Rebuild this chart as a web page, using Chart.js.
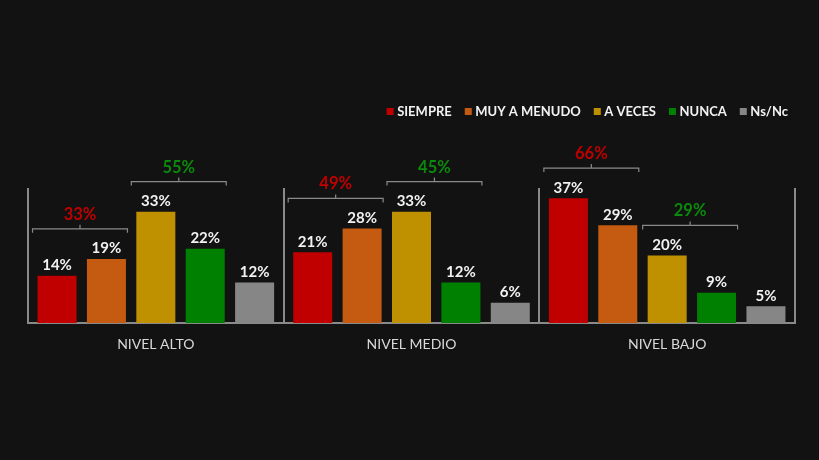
<!DOCTYPE html>
<html>
<head>
<meta charset="utf-8">
<script src="https://cdn.jsdelivr.net/npm/chart.js@4/dist/chart.umd.min.js"></script>
<style>
html,body{margin:0;padding:0;background:#121212;}
#wrap{width:819px;height:460px;}
</style>
</head>
<body>
<div id="wrap"><canvas id="c" width="819" height="460"></canvas></div>
<script>
const categories = ['NIVEL ALTO', 'NIVEL MEDIO', 'NIVEL BAJO'];
const seriesNames = ['SIEMPRE', 'MUY A MENUDO', 'A VECES', 'NUNCA', 'Ns/Nc'];
const siempre = [14, 21, 37];
const muyAMenudo = [19, 28, 29];
const aVeces = [33, 33, 20];
const nunca = [22, 12, 9];
const nsNc = [12, 6, 5];
const siempreMuyTotals = [33, 49, 66];
const vecesNuncaTotals = [55, 45, 29];

const colors = ['#c00000', '#c55a11', '#bf9000', '#008000', '#868686'];
const FONT = 'Lato, "Open Sans", sans-serif';

const bgPlugin = {
  id: 'bg',
  beforeDraw(chart) {
    const c = chart.ctx;
    c.save();
    c.fillStyle = '#121212';
    c.fillRect(0, 0, chart.width, chart.height);
    c.restore();
  }
};

const labelsPlugin = {
  id: 'labels',
  afterDatasetsDraw(chart) {
    const c = chart.ctx;
    const y = chart.scales.y;
    c.save();
    c.font = 'bold 15px ' + FONT;
    c.fillStyle = '#f2f2f2';
    c.textAlign = 'center';
    c.textBaseline = 'alphabetic';
    chart.data.datasets.forEach((ds, i) => {
      chart.getDatasetMeta(i).data.forEach((bar, j) => {
        c.fillText(ds.data[j] + '%', bar.x, bar.y - 5.5);
      });
    });
    const drawBracket = (b0, b1, v0, v1, total, color) => {
      const level = y.getPixelForValue(Math.max(v0, v1) + 8.9);
      const left = b0.x - b0.width / 2 - 5;
      const right = b1.x + b1.width / 2 + 1.5;
      const mid = (left + right) / 2;
      c.strokeStyle = '#8a8a8a';
      c.lineWidth = 1.2;
      c.beginPath();
      c.moveTo(left, level + 4);
      c.lineTo(left, level);
      c.lineTo(right, level);
      c.lineTo(right, level + 4);
      c.moveTo(mid, level);
      c.lineTo(mid, level - 4);
      c.stroke();
      c.font = 'bold 16.5px ' + FONT;
      c.fillStyle = color;
      c.fillText(total + '%', mid, level - 9);
    };
    const m = [0, 1, 2, 3].map(i => chart.getDatasetMeta(i).data);
    const d = chart.data.datasets;
    categories.forEach((cat, j) => {
      drawBracket(m[0][j], m[1][j], d[0].data[j], d[1].data[j], siempreMuyTotals[j], '#c00000');
      drawBracket(m[2][j], m[3][j], d[2].data[j], d[3].data[j], vecesNuncaTotals[j], '#0a8a0a');
    });
    c.restore();
  }
};

const legendPlugin = {
  id: 'customLegend',
  afterDraw(chart) {
    const c = chart.ctx;
    c.save();
    c.font = 'bold 13px ' + FONT;
    c.textBaseline = 'middle';
    c.textAlign = 'left';
    const box = 7, boxGap = 3.5, itemGap = 13, rightEdge = 788, cy = 111.5;
    const items = chart.data.datasets.map(ds => ({text: ds.label, color: ds.backgroundColor, w: c.measureText(ds.label).width}));
    let total = 0;
    items.forEach((it, i) => { total += box + boxGap + it.w + (i ? itemGap : 0); });
    let x = rightEdge - total;
    items.forEach(it => {
      c.fillStyle = it.color;
      c.fillRect(x, cy - box / 2, box, box);
      x += box + boxGap;
      c.fillStyle = '#f2f2f2';
      c.fillText(it.text, x, cy + 0.5);
      x += it.w + itemGap;
    });
    c.restore();
  }
};

const seriesValues = [siempre, muyAMenudo, aVeces, nunca, nsNc];

new Chart(document.getElementById('c'), {
  type: 'bar',
  data: {
    labels: categories,
    datasets: seriesNames.map((name, i) => ({
      label: name,
      data: seriesValues[i],
      backgroundColor: colors[i],
      borderWidth: 0,
      categoryPercentage: 0.966,
      barPercentage: 0.79
    }))
  },
  options: {
    responsive: false,
    animation: false,
    layout: {padding: {left: 28, right: 24, top: 188, bottom: 97}},
    plugins: {legend: {display: false}, tooltip: {enabled: false}},
    scales: {
      x: {
        offset: true,
        grid: {display: true, offset: true, color: '#8a8a8a', lineWidth: 2, drawTicks: false},
        border: {display: true, color: '#8a8a8a', width: 2},
        ticks: {color: '#d9d9d9', font: {family: FONT, size: 14}, padding: 13},
        afterFit(s) { s.height = 40; }
      },
      y: {display: false, min: 0, max: 40}
    }
  },
  plugins: [bgPlugin, labelsPlugin, legendPlugin]
});
</script>
</body>
</html>
